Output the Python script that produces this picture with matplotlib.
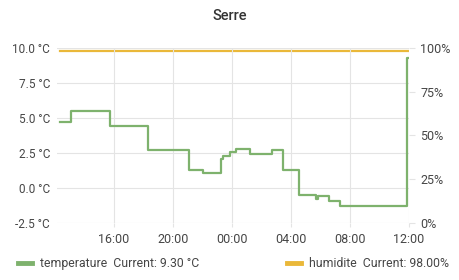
import matplotlib
matplotlib.use("Agg")
import matplotlib.pyplot as plt
import matplotlib.dates as mdates
from matplotlib.lines import Line2D
import pandas as pd

plt.rcParams['font.family'] = ['Roboto', 'DejaVu Sans']

# temperature readings (step series)
temp_times = ["2021-03-01 12:20", "2021-03-01 13:04", "2021-03-01 15:43", "2021-03-01 18:19",
              "2021-03-01 21:04", "2021-03-01 22:02", "2021-03-01 23:17", "2021-03-01 23:24",
              "2021-03-01 23:50", "2021-03-02 00:18", "2021-03-02 01:12", "2021-03-02 02:43",
              "2021-03-02 03:27", "2021-03-02 04:31", "2021-03-02 05:43", "2021-03-02 05:49",
              "2021-03-02 06:33", "2021-03-02 07:20", "2021-03-02 11:53", "2021-03-02 11:56"]
temp_values = [4.7, 5.5, 4.4, 2.7, 1.3, 1.1, 2.1, 2.3, 2.6, 2.8, 2.4, 2.7, 1.3,
               -0.5, -0.8, -0.6, -0.9, -1.3, 9.3, 9.3]

# humidity readings
hum_times = ["2021-03-01 12:20", "2021-03-02 11:56"]
hum_values = [98.0, 98.0]

temp_ticks = [-2.5, 0.0, 2.5, 5.0, 7.5, 10.0]
hum_ticks = [0, 25, 50, 75, 100]

title = "Serre"
temp_label = "temperature  Current: 9.30 °C"
hum_label = "humidite  Current: 98.00%"

green = "#7eb26d"
yellow = "#eab839"
text_col = "#464646"
grid_col = "#e4e4e4"

t_temp = pd.to_datetime(temp_times)
t_hum = pd.to_datetime(hum_times)

fig = plt.figure(figsize=(4.6, 2.8), dpi=100)
ax = fig.add_axes([0.124, 0.2036, 0.765, 0.625])
ax2 = ax.twinx()

ax.plot(t_temp, temp_values, color=green, lw=1.6, drawstyle="steps-post", zorder=3)
ax2.plot(t_hum, hum_values, color=yellow, lw=1.6, zorder=3)

ax.set_xlim(pd.Timestamp("2021-03-01 12:08"), pd.Timestamp("2021-03-02 12:00"))
ax.set_ylim(-2.5, 10)
ax2.set_ylim(0, 100)

ax.set_yticks(temp_ticks)
ax.set_yticklabels([f"{v:.1f} °C" for v in temp_ticks])
ax2.set_yticks(hum_ticks)
ax2.set_yticklabels([f"{v}%" for v in hum_ticks])

ax.xaxis.set_major_locator(mdates.HourLocator(byhour=[0, 4, 8, 12, 16, 20]))
ax.xaxis.set_major_formatter(mdates.DateFormatter("%H:%M"))

for a in (ax, ax2):
    for s in a.spines.values():
        s.set_visible(False)
ax.tick_params(axis="y", labelsize=8.5, colors=text_col, length=0, pad=5)
ax2.tick_params(axis="y", labelsize=9, labelcolor=text_col, color=grid_col, length=4, pad=4)
ax.tick_params(axis="x", labelsize=9, labelcolor=text_col, color=grid_col, length=3, pad=4)

ax.grid(True, color=grid_col, lw=0.8)
ax.set_axisbelow(True)
ax2.set_zorder(ax.get_zorder() - 1)
ax.patch.set_visible(False)

fig.text(0.5, 0.942, title, ha="center", va="center", fontsize=10.5, color="#333333", fontweight="medium")

# legend
leg_y = 0.06
fig.add_artist(Line2D([0.039, 0.07], [leg_y, leg_y], color=green, lw=3.5, transform=fig.transFigure))
fig.text(0.087, leg_y, temp_label, ha="left", va="center", fontsize=8.8, color=text_col)
fig.add_artist(Line2D([0.624, 0.655], [leg_y, leg_y], color=yellow, lw=3.5, transform=fig.transFigure))
fig.text(0.672, leg_y, hum_label, ha="left", va="center", fontsize=8.8, color=text_col)

fig.savefig("out.png", dpi=100)
